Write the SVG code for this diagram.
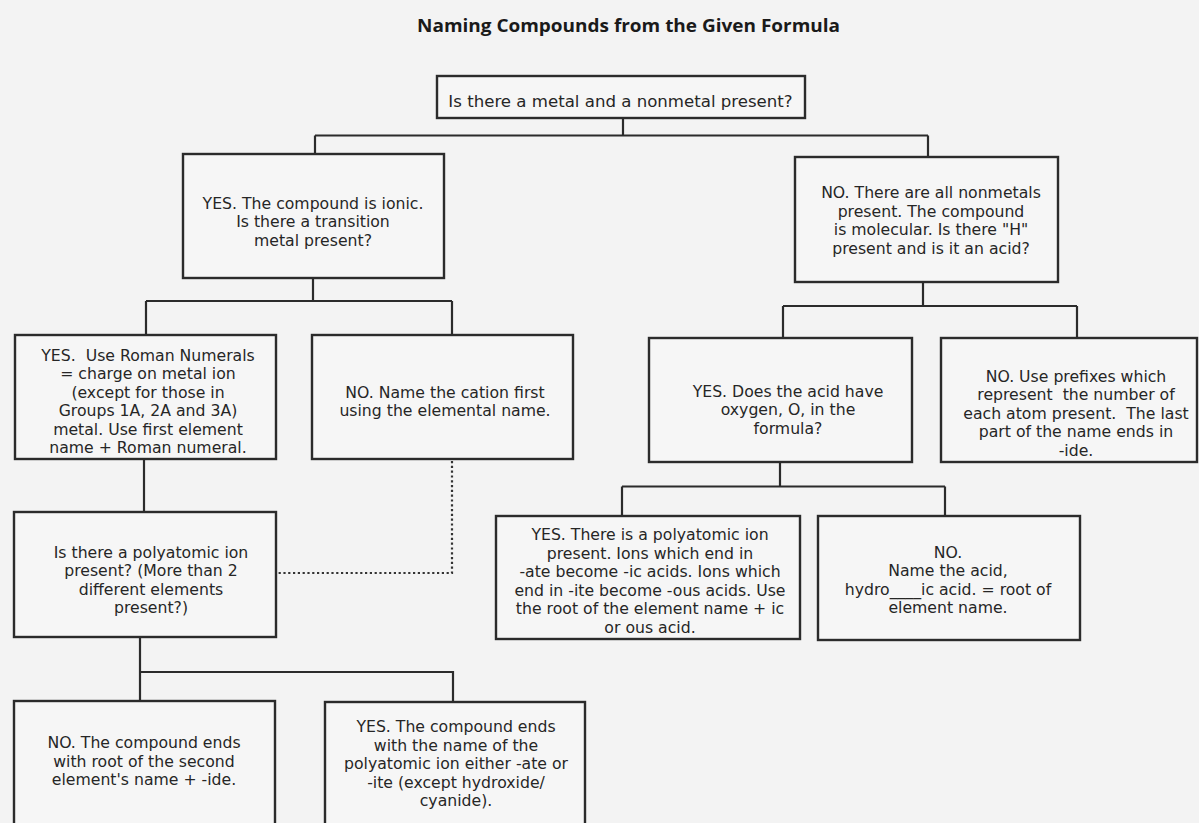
<svg xmlns="http://www.w3.org/2000/svg" width="1199" height="823" viewBox="0 0 1199 823">
<style>
.box{fill:#f6f6f6;stroke:#2b2b2b;stroke-width:2.4}
.t{font-family:"DejaVu Sans","Open Sans",sans-serif;font-size:15.7px;fill:#262626;text-anchor:middle}
.title{font-family:"Open Sans","Liberation Sans",sans-serif;font-weight:700;font-size:18.5px;fill:#1a1a1a}
.c{fill:none;stroke:#2b2b2b;stroke-width:2.2}
.d{fill:none;stroke:#333;stroke-width:2.2;stroke-dasharray:2.2 2.6}
</style>
<rect width="1199" height="823" fill="#f3f3f3"/>
<text class="title" x="417" y="32" textLength="423" lengthAdjust="spacingAndGlyphs">Naming Compounds from the Given Formula</text>
<g id="connectors">
<path class="c" d="M623 118V135.5M315 135.5H928M315 135.5V154M928 135.5V157"/>
<path class="c" d="M313 278V301M146 301H452M146 301V335M452 301V335"/>
<path class="c" d="M144 459V512"/>
<path class="d" d="M452 461V573H277"/>
<path class="c" d="M140 637V672H453V702M140 672V701"/>
<path class="c" d="M923 282V306M783 306H1077M783 306V338M1077 306V338"/>
<path class="c" d="M780 462V486.5M622 486.5H945M622 486.5V516M945 486.5V516"/>
</g>
<g id="n1"><rect class="box" x="437" y="76" width="368" height="42"/>
<text class="t" x="620.5" y="107" style="font-size:16.6px">Is there a metal and a nonmetal present?</text></g>
<g id="n2"><rect class="box" x="183" y="154" width="261" height="124"/>
<text class="t" y="209"><tspan x="313">YES. The compound is ionic.</tspan><tspan x="313" dy="18.4">Is there a transition</tspan><tspan x="313" dy="18.4">metal present?</tspan></text></g>
<g id="n3"><rect class="box" x="795" y="157" width="263" height="125"/>
<text class="t" y="198"><tspan x="931">NO. There are all nonmetals</tspan><tspan x="931" dy="18.5">present. The compound</tspan><tspan x="931" dy="18.5">is molecular. Is there &quot;H&quot;</tspan><tspan x="931" dy="18.5">present and is it an acid?</tspan></text></g>
<g id="n4"><rect class="box" x="15" y="335" width="261" height="124"/>
<text class="t" y="361"><tspan x="148">YES.&#160; Use Roman Numerals</tspan><tspan x="148" dy="18.4">= charge on metal ion</tspan><tspan x="148" dy="18.4">(except for those in</tspan><tspan x="148" dy="18.4">Groups 1A, 2A and 3A)</tspan><tspan x="148" dy="18.4">metal. Use first element</tspan><tspan x="148" dy="18.4">name + Roman numeral.</tspan></text></g>
<g id="n5"><rect class="box" x="312" y="335" width="261" height="124"/>
<text class="t" y="398"><tspan x="445">NO. Name the cation first</tspan><tspan x="445" dy="18.4">using the elemental name.</tspan></text></g>
<g id="n6"><rect class="box" x="14" y="512" width="262" height="125"/>
<text class="t" y="558"><tspan x="151">Is there a polyatomic ion</tspan><tspan x="151" dy="18.4">present? (More than 2</tspan><tspan x="151" dy="18.4">different elements</tspan><tspan x="151" dy="18.4">present?)</tspan></text></g>
<g id="n7"><rect class="box" x="649" y="338" width="263" height="124"/>
<text class="t" y="397"><tspan x="788">YES. Does the acid have</tspan><tspan x="788" dy="18.4">oxygen, O, in the</tspan><tspan x="788" dy="18.4">formula?</tspan></text></g>
<g id="n8"><rect class="box" x="941" y="338" width="256" height="124"/>
<text class="t" y="382"><tspan x="1076">NO. Use prefixes which</tspan><tspan x="1076" dy="18.4">represent&#160; the number of</tspan><tspan x="1076" dy="18.4">each atom present.&#160; The last</tspan><tspan x="1076" dy="18.4">part of the name ends in</tspan><tspan x="1076" dy="18.4">-ide.</tspan></text></g>
<g id="n9"><rect class="box" x="14" y="701" width="261" height="140"/>
<text class="t" y="748"><tspan x="144">NO. The compound ends</tspan><tspan x="144" dy="18.5">with root of the second</tspan><tspan x="144" dy="18.5">element's name + -ide.</tspan></text></g>
<g id="n10"><rect class="box" x="325" y="702" width="260" height="140"/>
<text class="t" y="732"><tspan x="456">YES. The compound ends</tspan><tspan x="456" dy="18.5">with the name of the</tspan><tspan x="456" dy="18.5">polyatomic ion either -ate or</tspan><tspan x="456" dy="18.5">-ite (except hydroxide/</tspan><tspan x="456" dy="18.5">cyanide).</tspan></text></g>
<g id="n11"><rect class="box" x="496" y="516" width="304" height="123"/>
<text class="t" y="540"><tspan x="650">YES. There is a polyatomic ion</tspan><tspan x="650" dy="18.5">present. Ions which end in</tspan><tspan x="650" dy="18.5">-ate become -ic acids. Ions which</tspan><tspan x="650" dy="18.5">end in -ite become -ous acids. Use</tspan><tspan x="650" dy="18.5">the root of the element name + ic</tspan><tspan x="650" dy="18.5">or ous acid.</tspan></text></g>
<g id="n12"><rect class="box" x="818" y="516" width="262" height="124"/>
<text class="t" y="558"><tspan x="948">NO.</tspan><tspan x="948" dy="18.4">Name the acid,</tspan><tspan x="948" dy="18.4">hydro____ic acid. = root of</tspan><tspan x="948" dy="18.4">element name.</tspan></text></g>
</svg>
